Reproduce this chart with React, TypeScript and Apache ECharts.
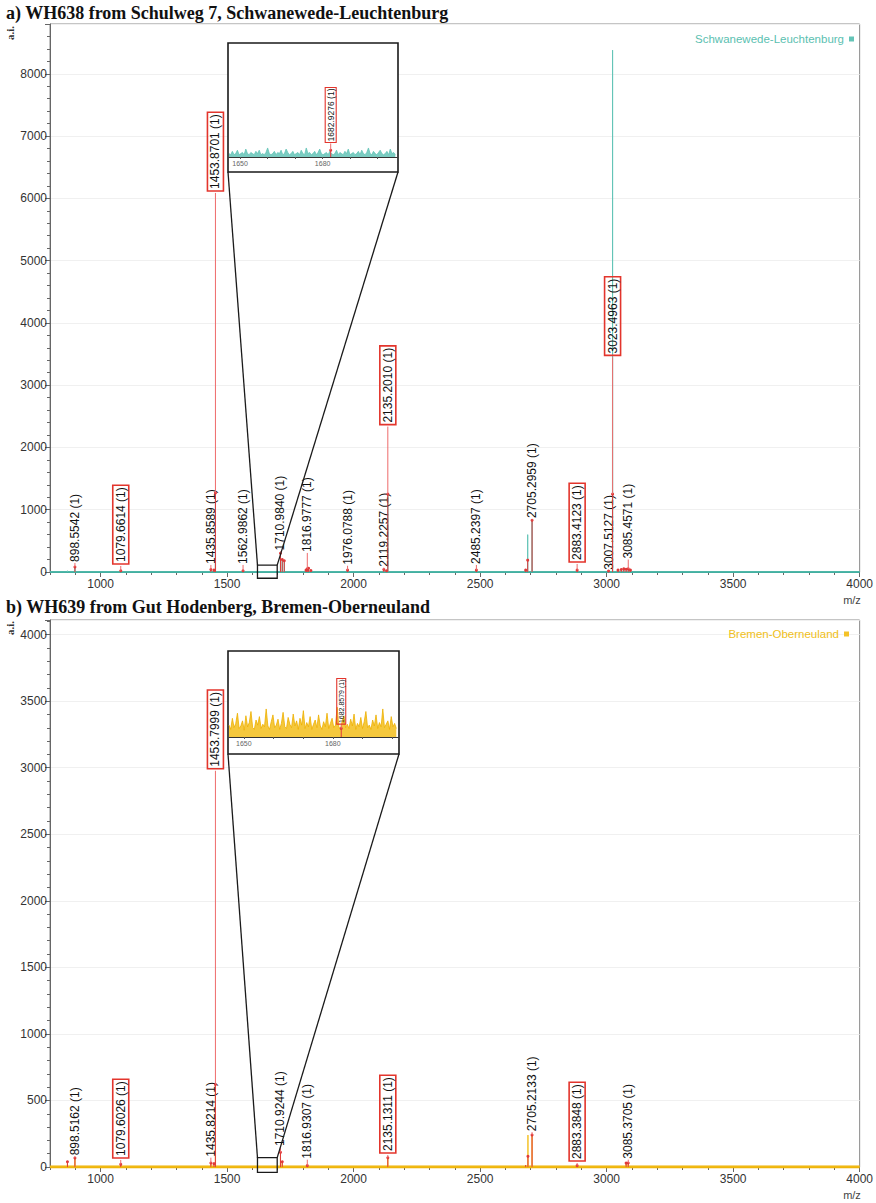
import React, { useEffect, useRef } from "react";
import * as echarts from "echarts";

// ---------- texts ----------
const TITLE_A = "a) WH638 from Schulweg 7, Schwanewede-Leuchtenburg";
const TITLE_B = "b) WH639 from Gut Hodenberg, Bremen-Oberneuland";
const SAMPLE_A = "Schwanewede-Leuchtenburg";
const SAMPLE_B = "Bremen-Oberneuland";
const Y_NAME = "a.i.";
const X_NAME = "m/z";

// ---------- axes ----------
const X_MIN = 800;
const X_MAX = 4000;
const xTickLabels = [1000, 1500, 2000, 2500, 3000, 3500, 4000];
const Y_MAX_A = 8800;
const Y_STEP_A = 1000;
const Y_MINOR_A = 200;
const Y_MAX_B = 4110;
const Y_STEP_B = 500;
const Y_MINOR_B = 100;
const insetTickLabels = [1650, 1680];
const insetMinorTicks = [1650, 1660, 1670, 1680, 1690, 1700];
const INSET_X_A = [1646, 1707];
const INSET_X_B = [1645, 1702];
const ZOOM_WIN = [1620, 1698];
const ZOOM_Y_A = [-100, 110];
const ZOOM_Y_B = [-40, 70];

// ---------- panel a: annotated peaks ----------
const peaksAmz = [898.5542, 1079.6614, 1435.8589, 1453.8701, 1562.9862, 1710.984, 1816.9777, 1976.0788,
  2119.2257, 2135.201, 2485.2397, 2705.2959, 2883.4123, 3007.5127, 3023.4963, 3085.4571];
const peaksAint = [80, 20, 40, 1270, 20, 300, 50, 30, 40, 1250, 30, 830, 30, 15, 1250, 50];
const peaksAlabelAt = [145, 97, 113, 6087, 113, 330, 306, 100, 70, 2335, 113, 850, 129, 20, 3446, 200];
const peaksAboxed = [0, 1, 0, 1, 0, 0, 0, 0, 0, 1, 0, 0, 1, 0, 1, 0];
// unlabeled red peak marks
const marksAmz = [1718, 1726, 1812, 1822, 1831, 1448, 2680, 2688, 2130, 3045, 3058, 3068, 3077, 3094];
const marksAint = [200, 180, 30, 60, 25, 30, 30, 190, 20, 30, 40, 50, 45, 30];
// teal spectrum peaks
const specAmz = [869, 898.55, 1079.66, 1435.86, 1453.87, 1562.99, 1710.98, 1718, 1726, 1816.98, 1822, 1976.08,
  2119.23, 2135.2, 2485.24, 2680, 2688, 2705.3, 2883.41, 3007.51, 3023.5, 3058, 3068, 3085.46];
const specAint = [20, 80, 20, 40, 1270, 20, 300, 200, 180, 40, 60, 30, 40, 1250, 30, 30, 600, 830, 30, 15, 8380, 40, 50, 50];

// ---------- panel b: annotated peaks ----------
const peaksBmz = [898.5162, 1079.6026, 1435.8214, 1453.7999, 1710.9244, 1816.9307, 2135.1311, 2705.2133, 2883.3848, 3085.3705];
const peaksBint = [68, 20, 30, 620, 110, 10, 70, 240, 10, 30];
const peaksBlabelAt = [80, 53, 70, 2977, 150, 55, 90, 262, 30, 55];
const peaksBboxed = [0, 1, 0, 1, 0, 0, 1, 0, 1, 0];
const marksBmz = [869, 1718, 2680, 2689, 3077, 1448];
const marksBint = [40, 40, 15, 80, 30, 25];
const specBmz = [869, 898.52, 1079.6, 1435.82, 1453.8, 1710.92, 1718, 1816.93, 2135.13, 2680, 2689, 2705.21, 2883.38, 3077, 3085.37];
const specBint = [40, 68, 20, 30, 620, 110, 40, 10, 70, 15, 240, 240, 10, 30, 30];

// ---------- insets ----------
const insetAstep = 0.61;
const insetAnoise = [3, 2, 5, 2, 3, 6, 2, 3, 4, 2, 7, 3, 2, 4, 3, 2, 5, 3, 6, 2, 3, 2, 4, 8, 3, 2, 3, 5, 2, 4, 3, 6, 2, 3, 7, 4, 2, 3, 5, 2,
  3, 4, 2, 6, 3, 2, 8, 3, 4, 2, 3, 5, 2, 4, 7, 3, 2, 3, 4, 2, 5, 3, 2, 3, 6, 2, 4, 3, 2, 5, 3, 7, 2, 3, 4, 2, 3, 5, 2, 6,
  3, 2, 4, 8, 3, 2, 5, 3, 2, 4, 6, 3, 2, 3, 5, 2, 7, 3, 4, 2];
const insetApeak = [[1682.9276, 6, 12, 1]];
const insetBstep = 0.57;
const insetBnoise = [14, 9, 22, 11, 16, 28, 10, 13, 19, 8, 25, 12, 17, 30, 11, 9, 20, 14, 24, 10, 15, 12, 33, 13, 9, 18, 26, 11, 14, 21,
  9, 16, 29, 12, 10, 23, 15, 11, 27, 13, 19, 9, 22, 14, 31, 10, 17, 12, 24, 9, 15, 20, 11, 26, 13, 9, 18, 12, 28, 10,
  16, 22, 11, 14, 35, 12, 9, 19, 25, 11, 15, 10, 21, 13, 27, 9, 16, 12, 23, 10, 18, 30, 11, 14, 9, 20, 13, 26, 10, 17,
  12, 33, 11, 15, 19, 9, 24, 12, 16, 10];
const insetBpeak = [[1682.8579, 10, 14, 1]];

// ---------- styles ----------
const SANS = "Liberation Sans";
const SERIF = "Liberation Serif";
const TEAL = "#3aa99a";
const TEAL_LIGHT = "#64c4b7";
const TEAL_TEXT = "#5bbfb1";
const GOLD = "#edb000";
const GOLD_LIGHT = "#f4c228";
const GOLD_TEXT = "#f0c020";
const RED_BOX = "#e3352c";
const RED_STICK = "#e03a3a";
const RED_LEADER = "#ee6b6b";
const AXIS = "#666";

const INSET_A = { x: 228, y: 43, w: 170, h: 129 };
const INSET_B = { x: 228, y: 651, w: 171, h: 103 };

const plain = (v: number) => String(v);

function buildSpectrum(mz: number[], inten: number[]) {
  const pts: number[][] = [[X_MIN, 0]];
  mz.map((m, i) => [m, inten[i]])
    .sort((a, b) => a[0] - b[0])
    .forEach(([m, h]) => {
      pts.push([m - 0.6, 0], [m, h], [m + 0.6, 0]);
    });
  pts.push([X_MAX, 0]);
  return pts;
}

function annotData(mz: number[], inten: number[], at: number[], boxed: number[]) {
  return mz.map((m, i) => [m, inten[i], at[i], boxed[i]]);
}

function makeRender(withLabels: boolean, fontSize: number, pad: number) {
  return (params: any, api: any) => {
    const mz = api.value(0);
    const pk = api.value(1);
    const at = api.value(2);
    const boxed = api.value(3);
    const p0 = api.coord([mz, 0]);
    const pp = api.coord([mz, pk]);
    const pl = api.coord([mz, at]);
    const children: any[] = [
      { type: "line", shape: { x1: p0[0], y1: p0[1], x2: pp[0], y2: pp[1] }, style: { stroke: RED_STICK, lineWidth: 1 } },
      { type: "circle", shape: { cx: pp[0], cy: pp[1], r: 1.5 }, style: { fill: RED_STICK } },
    ];
    if (at > pk) {
      children.push({ type: "line", shape: { x1: pp[0], y1: pp[1], x2: pl[0], y2: pl[1] }, style: { stroke: RED_LEADER, lineWidth: 1 } });
    }
    if (withLabels) {
      const style: any = {
        text: mz.toFixed(4) + " (1)",
        fill: "#111",
        fontSize,
        fontFamily: SANS,
        align: "left",
        verticalAlign: "middle",
        textAlign: "left",
        textVerticalAlign: "middle",
      };
      if (boxed) {
        style.borderColor = RED_BOX;
        style.borderWidth = fontSize > 10 ? 1.6 : 1.1;
        style.padding = [pad, pad, pad, pad];
      }
      children.push({ type: "text", x: pl[0], y: pl[1] - (boxed ? pad : 1), rotation: Math.PI / 2, style });
    }
    return { type: "group", children };
  };
}

function mainX(grid: number) {
  return {
    type: "value", gridIndex: grid, min: X_MIN, max: X_MAX, position: "bottom",
    axisLine: { show: true, onZero: false, lineStyle: { color: AXIS, width: 1 } },
    axisTick: { show: true, length: 5, customValues: xTickLabels, lineStyle: { color: AXIS } },
    axisLabel: { customValues: xTickLabels, formatter: plain, fontSize: 12, color: "#333", margin: 6, fontFamily: SANS },
    splitLine: { show: false },
  };
}
function minorX(grid: number) {
  return {
    type: "value", gridIndex: grid, min: X_MIN, max: X_MAX, interval: 100, position: "bottom",
    axisLine: { show: false }, axisTick: { show: true, length: 3, lineStyle: { color: AXIS } },
    axisLabel: { show: false }, splitLine: { show: false },
  };
}
function mainY(grid: number, max: number, step: number) {
  return {
    type: "value", gridIndex: grid, min: 0, max, interval: step, position: "left",
    axisLine: { show: true, lineStyle: { color: AXIS } },
    axisTick: { show: true, length: 5, lineStyle: { color: AXIS } },
    axisLabel: {
      fontSize: 12, color: "#333", margin: 3, fontFamily: SANS,
      formatter: (v: number) => (v % step === 0 ? String(v) : ""),
    },
    splitLine: { show: true, lineStyle: { color: "#f0f0f0" } },
  };
}
function minorY(grid: number, max: number, step: number) {
  return {
    type: "value", gridIndex: grid, min: 0, max, interval: step, position: "left",
    axisLine: { show: false }, axisTick: { show: true, length: 3, lineStyle: { color: AXIS } },
    axisLabel: { show: false }, splitLine: { show: false },
  };
}
function insetX(grid: number, range: number[]) {
  return {
    type: "value", gridIndex: grid, min: range[0], max: range[1], position: "bottom", z: 12,
    axisLine: { show: true, onZero: false, lineStyle: { color: "#333", width: 1 } },
    axisTick: { show: true, length: 2, customValues: insetMinorTicks, lineStyle: { color: "#555" } },
    axisLabel: { customValues: insetTickLabels, formatter: plain, fontSize: 7, color: "#666", margin: 3, fontFamily: SANS },
    splitLine: { show: false },
  };
}
function insetY(grid: number) {
  return { type: "value", gridIndex: grid, min: 0, max: 100, show: false, splitLine: { show: false } };
}

export default function App() {
  const ref = useRef<HTMLDivElement>(null);
  useEffect(() => {
    if (!ref.current) return;
    const chart = echarts.init(ref.current, undefined, { renderer: "svg" });
    const insetAdata = insetAnoise.map((v, i) => [INSET_X_A[0] + i * insetAstep, v]);
    const insetBdata = insetBnoise.map((v, i) => [INSET_X_B[0] + i * insetBstep, v]);

    chart.setOption({
      animation: false,
      backgroundColor: "#fff",
      grid: [
        { left: 50, top: 24, width: 812, height: 548, show: true, borderColor: "#8a8a8a", borderWidth: 1, backgroundColor: "transparent" },
        { left: 229, top: 44, width: 168, height: 113 },
        { left: 50, top: 620, width: 812, height: 547, show: true, borderColor: "#8a8a8a", borderWidth: 1, backgroundColor: "transparent" },
        { left: 229, top: 652, width: 169, height: 85 },
      ],
      xAxis: [mainX(0), minorX(0), insetX(1, INSET_X_A), mainX(2), minorX(2), insetX(3, INSET_X_B)],
      yAxis: [
        mainY(0, Y_MAX_A, Y_STEP_A), minorY(0, Y_MAX_A, Y_MINOR_A), insetY(1),
        mainY(2, Y_MAX_B, Y_STEP_B), minorY(2, Y_MAX_B, Y_MINOR_B), insetY(3),
      ],
      legend: [
        {
          data: [{ name: SAMPLE_A, icon: "rect" }], right: 17, top: 28, align: "right", itemWidth: 5, itemHeight: 5,
          selectedMode: false, textStyle: { color: TEAL_TEXT, fontSize: 11.5, fontFamily: SANS },
        },
        {
          data: [{ name: SAMPLE_B, icon: "rect" }], right: 22, top: 623, align: "right", itemWidth: 5, itemHeight: 5,
          selectedMode: false, textStyle: { color: GOLD_TEXT, fontSize: 11.5, fontFamily: SANS },
        },
      ],
      series: [
        {
          name: "baseA", type: "line", xAxisIndex: 0, yAxisIndex: 0, data: [[X_MIN, 0], [X_MAX, 0]],
          symbol: "none", lineStyle: { color: TEAL, width: 2 }, z: 2, silent: true,
        },
        {
          name: SAMPLE_A, type: "line", xAxisIndex: 0, yAxisIndex: 0, data: buildSpectrum(specAmz, specAint),
          symbol: "none", itemStyle: { color: TEAL_LIGHT }, lineStyle: { color: TEAL_LIGHT, width: 1 }, z: 2, silent: true,
        },
        {
          name: "marksA", type: "custom", xAxisIndex: 0, yAxisIndex: 0, renderItem: makeRender(false, 12, 2),
          data: annotData(marksAmz, marksAint, marksAint, marksAint.map(() => 0)), z: 3, silent: true,
        },
        {
          name: "peaksA", type: "custom", xAxisIndex: 0, yAxisIndex: 0, renderItem: makeRender(true, 12, 2),
          data: annotData(peaksAmz, peaksAint, peaksAlabelAt, peaksAboxed), z: 4, silent: true,
        },
        {
          name: "insetA", type: "line", xAxisIndex: 2, yAxisIndex: 2, data: insetAdata, symbol: "none",
          lineStyle: { color: TEAL_LIGHT, width: 0.8 }, areaStyle: { color: TEAL_LIGHT, opacity: 0.85 }, z: 12, silent: true,
        },
        {
          name: "insetApk", type: "custom", xAxisIndex: 2, yAxisIndex: 2, renderItem: makeRender(true, 8.5, 1),
          data: insetApeak, z: 13, silent: true,
        },
        {
          name: "baseB", type: "line", xAxisIndex: 3, yAxisIndex: 3, data: [[X_MIN, 0], [X_MAX, 0]],
          symbol: "none", lineStyle: { color: GOLD, width: 3 }, z: 2, silent: true,
        },
        {
          name: SAMPLE_B, type: "line", xAxisIndex: 3, yAxisIndex: 3, data: buildSpectrum(specBmz, specBint),
          symbol: "none", itemStyle: { color: GOLD_LIGHT }, lineStyle: { color: GOLD_LIGHT, width: 1 }, z: 2, silent: true,
        },
        {
          name: "marksB", type: "custom", xAxisIndex: 3, yAxisIndex: 3, renderItem: makeRender(false, 12, 2),
          data: annotData(marksBmz, marksBint, marksBint, marksBint.map(() => 0)), z: 3, silent: true,
        },
        {
          name: "peaksB", type: "custom", xAxisIndex: 3, yAxisIndex: 3, renderItem: makeRender(true, 12, 2),
          data: annotData(peaksBmz, peaksBint, peaksBlabelAt, peaksBboxed), z: 4, silent: true,
        },
        {
          name: "insetB", type: "line", xAxisIndex: 5, yAxisIndex: 5, data: insetBdata, symbol: "none",
          lineStyle: { color: GOLD, width: 0.8 }, areaStyle: { color: GOLD_LIGHT, opacity: 0.9 }, z: 12, silent: true,
        },
        {
          name: "insetBpk", type: "custom", xAxisIndex: 5, yAxisIndex: 5, renderItem: makeRender(true, 7, 1),
          data: insetBpeak, z: 13, silent: true,
        },
      ],
    });

    const a0 = chart.convertToPixel({ xAxisIndex: 0, yAxisIndex: 0 } as any, [ZOOM_WIN[0], ZOOM_Y_A[1]]) as number[];
    const a1 = chart.convertToPixel({ xAxisIndex: 0, yAxisIndex: 0 } as any, [ZOOM_WIN[1], ZOOM_Y_A[0]]) as number[];
    const b0 = chart.convertToPixel({ xAxisIndex: 3, yAxisIndex: 3 } as any, [ZOOM_WIN[0], ZOOM_Y_B[1]]) as number[];
    const b1 = chart.convertToPixel({ xAxisIndex: 3, yAxisIndex: 3 } as any, [ZOOM_WIN[1], ZOOM_Y_B[0]]) as number[];

    const black = "#1a1a1a";
    const zoomLines = (box: any, p0: number[], p1: number[]) => [
      { type: "rect", z: 10, shape: { x: box.x, y: box.y, width: box.w, height: box.h }, style: { fill: "#fff", stroke: black, lineWidth: 1.6 } },
      { type: "rect", z: 10, shape: { x: p0[0], y: p0[1], width: p1[0] - p0[0], height: p1[1] - p0[1] }, style: { fill: "none", stroke: black, lineWidth: 1.3 } },
      { type: "line", z: 10, shape: { x1: box.x, y1: box.y + box.h, x2: p0[0], y2: p0[1] }, style: { stroke: black, lineWidth: 1.3 } },
      { type: "line", z: 10, shape: { x1: box.x + box.w, y1: box.y + box.h, x2: p1[0], y2: p0[1] }, style: { stroke: black, lineWidth: 1.3 } },
    ];
    const txt = (text: string, x: number, y: number, font: string, fill: string, align = "left", rotation = 0) => ({
      type: "text", z: 20, x, y, rotation,
      style: { text, font, fill, align, verticalAlign: "middle", textAlign: align, textVerticalAlign: "middle" },
    });

    chart.setOption({
      graphic: [
        ...zoomLines(INSET_A, a0, a1),
        ...zoomLines(INSET_B, b0, b1),
        txt(TITLE_A, 6, 13, `bold 18px "${SERIF}"`, "#111"),
        txt(TITLE_B, 6, 607, `bold 18px "${SERIF}"`, "#111"),
        txt(Y_NAME, 10, 33, `bold 11px "${SERIF}"`, "#333", "center", Math.PI / 2),
        txt(Y_NAME, 10, 628, `bold 11px "${SERIF}"`, "#333", "center", Math.PI / 2),
        txt(X_NAME, 852, 600, `11px "${SANS}"`, "#444", "center"),
        txt(X_NAME, 852, 1195, `11px "${SANS}"`, "#444", "center"),
      ],
    });

    return () => chart.dispose();
  }, []);

  return <div ref={ref} style={{ position: "absolute", left: 0, top: 0, width: 876, height: 1203 }} />;
}
